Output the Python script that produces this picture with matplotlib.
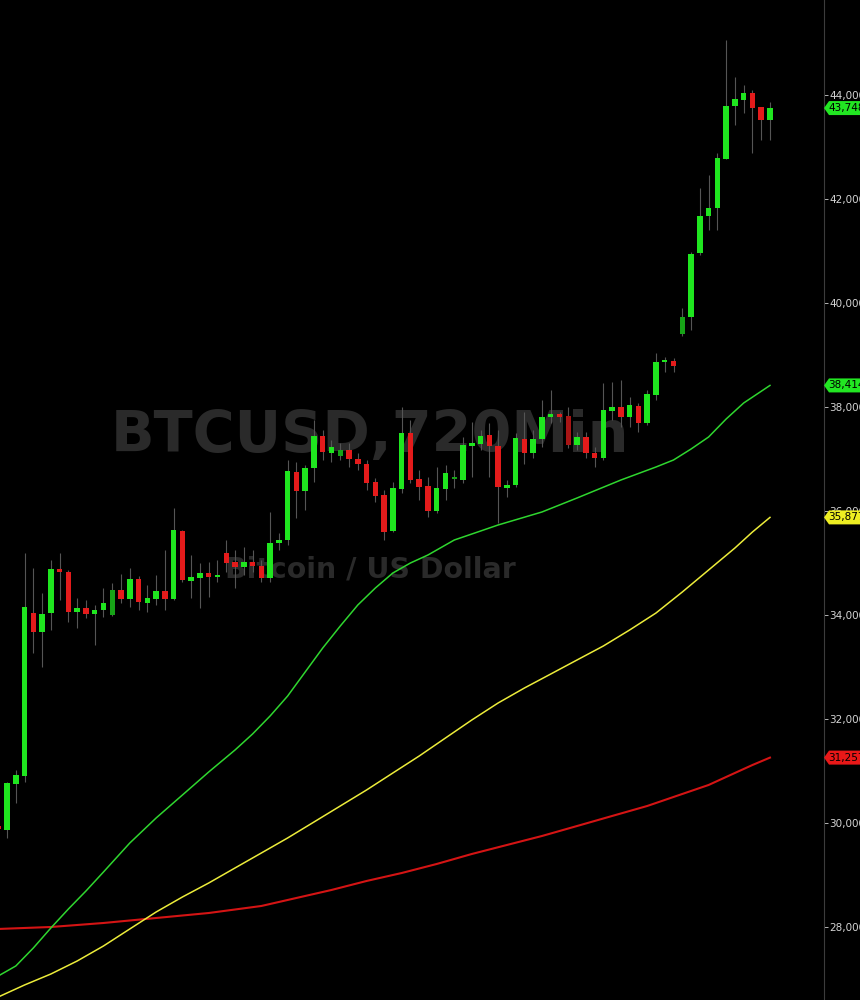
import numpy as np
import matplotlib
matplotlib.use('Agg')
import matplotlib.pyplot as plt
from matplotlib.patches import Polygon
from matplotlib.transforms import IdentityTransform

# %% Data (12-hour BTCUSD candles)

opens = [29950, 29865, 30750, 30904, 34038, 33673, 34030, 34885, 34827, 34058,
         34135, 34019, 34096, 34000, 34481, 34308, 34692, 34231, 34308, 34462,
         34308, 35615, 34654, 34712, 34808, 34740, 35192, 35019, 34923, 35019,
         34942, 34712, 35385, 35442, 36750, 36385, 36827, 37442, 37115, 37058,
         37173, 37000, 36904, 36558, 36308, 35615, 36423, 37500, 36615, 36481,
         36000, 36423, 36615, 36596, 37250, 37288, 37462, 37250, 36442, 36500,
         37385, 37115, 37385, 37808, 37865, 37827, 37269, 37423, 37115, 37019,
         37923, 38000, 37808, 38019, 37692, 38231, 38865, 38885, 39404, 39731,
         40962, 41673, 41827, 42769, 43788, 43904, 44038, 43769, 43519]
highs = [29990, 30780, 31019, 35192, 34904, 34423, 35058, 35192, 34865, 34327,
         34288, 34192, 34519, 34615, 34788, 34904, 34750, 34577, 34769, 35250,
         36058, 35640, 35154, 35000, 35019, 35058, 35442, 35250, 35308, 35250,
         35058, 35981, 35577, 36981, 36942, 36885, 37750, 37558, 37365, 37308,
         37308, 37115, 36981, 36635, 36404, 36558, 38000, 37750, 36788, 36654,
         36846, 36885, 36788, 37423, 37712, 37558, 37692, 37558, 36596, 37500,
         37904, 37558, 38135, 38327, 37904, 38000, 37519, 37519, 37231, 38462,
         38481, 38519, 38192, 38077, 38327, 39038, 38962, 38942, 39904, 40981,
         42212, 42462, 42885, 45058, 44346, 44192, 44096, 43769, 43865]
lows = [29830, 29711, 30385, 30788, 33269, 33000, 33712, 34288, 33865, 33750,
        33942, 33423, 33962, 33981, 34231, 34154, 34100, 34058, 34192, 34096,
        34290, 34635, 34327, 34135, 34346, 34635, 34827, 34519, 34769, 34827,
        34635, 34635, 35250, 35346, 35865, 36019, 36558, 36981, 36942, 36981,
        36846, 36788, 36404, 36173, 35442, 35596, 36346, 36538, 36212, 35885,
        35962, 36212, 36442, 36538, 36654, 37173, 36654, 35769, 36269, 36462,
        36904, 37019, 37231, 37692, 37712, 37212, 37173, 37019, 36846, 36981,
        37750, 37615, 37615, 37519, 37654, 38135, 38673, 38673, 39365, 39481,
        40923, 41404, 41404, 42769, 43423, 43654, 42885, 43135, 43135]
closes = [29880, 30769, 30923, 34154, 33673, 34019, 34885, 34827, 34058, 34135,
          34019, 34096, 34231, 34481, 34308, 34692, 34250, 34327, 34462, 34308,
          35635, 34673, 34731, 34808, 34731, 34750, 35000, 34923, 35019, 34942,
          34712, 35385, 35442, 36769, 36385, 36827, 37442, 37135, 37231, 37173,
          37000, 36904, 36538, 36288, 35596, 36442, 37500, 36596, 36462, 36000,
          36442, 36731, 36635, 37269, 37308, 37442, 37250, 36462, 36500, 37404,
          37115, 37385, 37808, 37865, 37808, 37269, 37423, 37115, 37019, 37942,
          38000, 37808, 38038, 37692, 38250, 38865, 38885, 38788, 39731, 40942,
          41673, 41827, 42788, 43788, 43923, 44038, 43750, 43519, 43748.76]
dim_bars = [13, 39, 52, 65, 78]  # drawn in a darker shade on the chart

# Moving averages, read at bar positions
ma_fast_x = [0, 2, 4, 6, 8, 10, 12, 15, 18, 21, 24, 27, 29, 31, 33, 35, 37, 39, 41, 43,
             45, 47, 49, 52, 55, 57, 62, 66, 71, 75, 77, 79, 81, 83, 85, 88]
ma_fast = [27058, 27250, 27596, 27981, 28346, 28692, 29058, 29615, 30096, 30538,
           30981, 31404, 31712, 32058, 32442, 32904, 33365, 33788, 34192, 34519,
           34808, 35000, 35154, 35442, 35615, 35731, 35981, 36250, 36596, 36846,
           36981, 37192, 37423, 37769, 38077, 38414.85]
ma_mid_x = [0, 3, 6, 9, 12, 15, 18, 21, 24, 27, 30, 33, 36, 39, 42, 45, 48, 51, 54, 57,
            60, 63, 66, 69, 72, 75, 78, 81, 84, 86, 88]
ma_mid = [26654, 26885, 27096, 27346, 27635, 27962, 28288, 28577, 28846, 29135,
          29423, 29712, 30019, 30327, 30635, 30962, 31288, 31635, 31981, 32308,
          32596, 32865, 33135, 33404, 33712, 34038, 34442, 34865, 35288, 35596, 35877.10]
ma_slow_x = [0, 6, 12, 18, 24, 30, 34, 38, 42, 46, 50, 54, 58, 62, 66, 70, 74, 78, 81, 84, 86, 88]
ma_slow = [27962, 28000, 28077, 28173, 28269, 28404, 28558, 28712, 28885, 29038, 29212,
           29404, 29577, 29750, 29942, 30135, 30327, 30558, 30731, 30962, 31115, 31257.45]

price_ticks = [28000, 30000, 32000, 34000, 36000, 38000, 40000, 42000, 44000]

# %% Plot

fam = ['DejaVu Sans']
W, H = 860, 1000
axis_px = 824

fig = plt.figure(figsize=(W / 100, H / 100), dpi=100, facecolor='black')
ax = fig.add_axes([0, 0, axis_px / W, 1], facecolor='black')

o = np.array(opens)
c = np.array(closes)
idx = np.arange(len(o))
up = c >= o
cols = np.where(up, '#1fe61f', '#e41b1b').astype(object)
for i in dim_bars:
    cols[i] = '#17a317' if up[i] else '#a81515'
bottoms = np.minimum(o, c)
heights = np.maximum(np.abs(c - o), 35)

ax.vlines(idx, lows, highs, color='#555555', lw=0.8, zorder=2)
ax.bar(idx, heights, bottom=bottoms, width=0.62, color=list(cols), linewidth=0, zorder=3)

ax.plot(ma_slow_x, ma_slow, color='#d41414', lw=1.5, zorder=4)
ax.plot(ma_mid_x, ma_mid, color='#ecec3a', lw=1.1, zorder=4)
ax.plot(ma_fast_x, ma_fast, color='#2fd62f', lw=1.1, zorder=4)

ax.set_xlim(0.2, 94.16)
ax.set_ylim(26596, 45827)

ax.set_xticks([])
ax.yaxis.tick_right()
ax.set_yticks(price_ticks)
ax.set_yticklabels([f'{t:,.2f}' for t in price_ticks], family=fam)
ax.tick_params(axis='y', colors='#d4d4d4', labelsize=7.5, length=3, pad=1, width=0.6)
for s in ['top', 'left', 'bottom']:
    ax.spines[s].set_visible(False)
ax.spines['right'].set_color('#3c3c3c')

# watermark, scaled to the width it takes on the chart
fig.canvas.draw()
r = fig.canvas.get_renderer()
for txt, cx, cy, width_px in [('BTCUSD,720Min', 0.449, 0.563, 518),
                              ('Bitcoin / US Dollar', 0.449, 0.43, 290)]:
    t = ax.text(cx, cy, txt, transform=ax.transAxes, ha='center', va='center',
                fontsize=40, fontweight='bold', color='#2a2a2a', family=fam, zorder=1)
    w = t.get_window_extent(r).width
    t.set_fontsize(40 * width_px / w)

# price flags on the right axis
flags = [(closes[-1], '#22e622'), (ma_fast[-1], '#22e622'),
         (ma_mid[-1], '#eeee22'), (ma_slow[-1], '#e81818')]
for val, col in flags:
    y = ax.transData.transform((0, val))[1]
    pts = [(axis_px, y), (axis_px + 5, y + 7), (W + 5, y + 7), (W + 5, y - 7), (axis_px + 5, y - 7)]
    fig.add_artist(Polygon(pts, closed=True, facecolor=col, edgecolor='none',
                           transform=IdentityTransform(), zorder=10))
    fig.text(axis_px + 4, y, f'{val:,.2f}', transform=IdentityTransform(), ha='left', va='center',
             fontsize=7.5, color='black', family=fam, zorder=11)

fig.savefig('out.png', dpi=100, facecolor='black')
